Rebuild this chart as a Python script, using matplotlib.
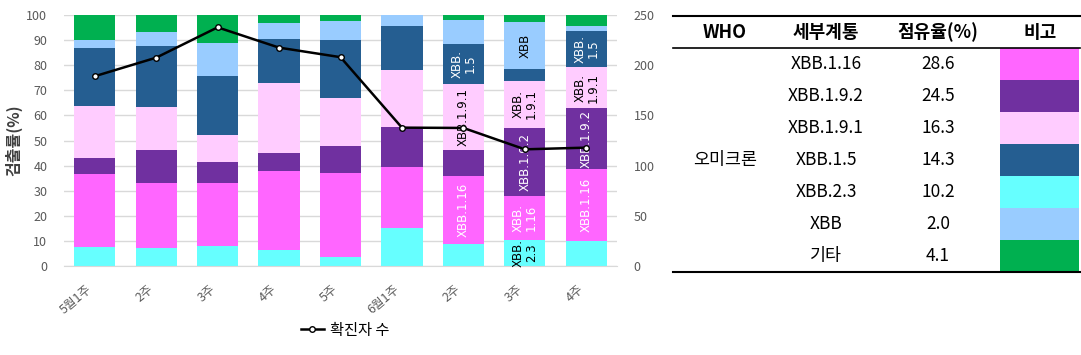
import matplotlib
matplotlib.use("Agg")
import matplotlib.pyplot as plt
from matplotlib.patches import Rectangle
from matplotlib.lines import Line2D
import numpy as np

plt.rcParams['font.family'] = ['Noto Sans CJK KR', 'DejaVu Sans']

weeks = ["5월1주", "2주", "3주", "4주", "5주", "6월1주", "2주", "3주", "4주"]
variants = ["XBB.2.3", "XBB.1.16", "XBB.1.9.2", "XBB.1.9.1", "XBB.1.5", "XBB", "기타"]
colors = ["#66FFFF", "#FF66FF", "#7030A0", "#FFCCFF", "#255E91", "#99CCFF", "#00B050"]

xbb_2_3  = [7.6, 7.2, 8.0, 6.4, 3.6, 15.1, 8.8, 10.4, 10.0]
xbb_1_16 = [29.1, 25.9, 25.1, 31.4, 33.5, 24.3, 27.1, 17.5, 28.6]
xbb_1_9_2 = [6.3, 13.1, 8.3, 7.2, 10.7, 16.0, 10.3, 27.1, 24.3]
xbb_1_9_1 = [20.7, 17.1, 10.8, 27.9, 19.1, 22.7, 26.3, 18.7, 16.4]
xbb_1_5  = [23.2, 24.3, 23.5, 17.5, 23.1, 17.5, 15.9, 4.8, 14.3]
xbb      = [3.1, 5.6, 13.1, 6.4, 7.6, 4.4, 9.6, 18.7, 2.0]
others   = [10.0, 6.8, 11.2, 3.2, 2.4, 0.0, 2.0, 2.8, 4.4]
series = [xbb_2_3, xbb_1_16, xbb_1_9_2, xbb_1_9_1, xbb_1_5, xbb, others]

cases = [189, 207.5, 237.7, 217.5, 208, 137.8, 137.5, 116.2, 117.9]

table_variants = ["XBB.1.16", "XBB.1.9.2", "XBB.1.9.1", "XBB.1.5", "XBB.2.3", "XBB", "기타"]
table_shares = ["28.6", "24.5", "16.3", "14.3", "10.2", "2.0", "4.1"]
table_colors = ["#FF66FF", "#7030A0", "#FFCCFF", "#255E91", "#66FFFF", "#99CCFF", "#00B050"]

# bar labels: (week index, series index, text, color)
bar_labels = [
    (6, 4, "XBB.\n1.5", "white"), (6, 3, "XBB.1.9.1", "black"), (6, 1, "XBB.1.16", "white"),
    (7, 5, "XBB", "black"), (7, 3, "XBB.\n1.9.1", "black"), (7, 2, "XBB.1.9.2", "white"),
    (7, 1, "XBB.\n1.16", "white"), (7, 0, "XBB.\n2.3", "black"),
    (8, 4, "XBB.\n1.5", "white"), (8, 3, "XBB.\n1.9.1", "black"), (8, 2, "XBB.1.9.2", "white"),
    (8, 1, "XBB.1.16", "white"),
]

W, H = 1081, 355
fig = plt.figure(figsize=(W / 100, H / 100), dpi=100)
ax = fig.add_axes([64 / W, (H - 266) / H, 553 / W, 251 / H])

x = np.arange(len(weeks))
bottom = np.zeros(len(weeks))
for s, c in zip(series, colors):
    ax.bar(x, s, bottom=bottom, width=0.67, color=c, zorder=2)
    bottom += np.array(s)

cum = np.cumsum(np.array(series), axis=0)
for wi, si, txt, col in bar_labels:
    lo = cum[si - 1][wi] if si > 0 else 0
    hi = cum[si][wi]
    ax.text(wi, (lo + hi) / 2, txt, rotation=90, ha='center', va='center',
            color=col, fontsize=8.5, linespacing=1.0, zorder=3, family=['DejaVu Sans'])

ax.set_xlim(-0.5, len(weeks) - 0.5)
ax.set_ylim(0, 100)
ax.set_yticks(range(0, 101, 10))
ax.yaxis.grid(True, color='#D9D9D9', linewidth=1, zorder=0)
ax.set_axisbelow(True)
for sp in ['left', 'right', 'top']:
    ax.spines[sp].set_visible(False)
ax.spines['bottom'].set_color('#D9D9D9')
ax.tick_params(axis='y', length=0, labelsize=9, labelcolor='#595959', pad=12)
ax.set_xticks(x)
ax.set_xticklabels(weeks, rotation=40, ha='right', fontsize=9, color='#595959')
ax.tick_params(axis='x', length=0, pad=12)
ax.set_ylabel("검출률(%)", fontsize=11.5, fontweight='bold', color='#404040', labelpad=3)

ax2 = ax.twinx()
ax2.set_ylim(0, 250)
ax2.set_yticks(range(0, 251, 50))
for sp in ax2.spines.values():
    sp.set_visible(False)
ax2.tick_params(axis='y', length=0, labelsize=9, labelcolor='#595959', pad=12)
ax2.plot(x, cases, color='black', linewidth=1.8, marker='o', markersize=4,
         markerfacecolor='white', markeredgecolor='black', markeredgewidth=1, zorder=5)

leg_handle = Line2D([], [], color='black', linewidth=1.8, marker='o', markersize=4,
                    markerfacecolor='white', markeredgecolor='black')
fig.legend([leg_handle], ["확진자 수"], loc='center', bbox_to_anchor=(345 / W, 1 - 330 / H),
           frameon=False, fontsize=11, handlelength=1.5, handletextpad=0.4)

# table
tx0, tx1 = 673, 1080
y_top, y_head, y_bot = 16, 48, 272
row_h = (y_bot - y_head) / len(table_variants)

def fy(py):
    return 1 - py / H

def fx(px):
    return px / W

for py, lw in [(y_top, 1.5), (y_head, 1.2), (y_bot, 1.5)]:
    fig.add_artist(Line2D([fx(tx0), fx(tx1)], [fy(py), fy(py)], color='black', linewidth=lw))

col_x = [725, 826, 938, 1040]
headers = ["WHO", "세부계통", "점유율(%)", "비고"]
for cx, h in zip(col_x, headers):
    fig.text(fx(cx), fy((y_top + y_head) / 2), h, ha='center', va='center',
             fontsize=13, fontweight='bold')

for i, (v, s, c) in enumerate(zip(table_variants, table_shares, table_colors)):
    cy = y_head + row_h * (i + 0.5)
    fig.text(fx(col_x[1]), fy(cy), v, ha='center', va='center', fontsize=12.5)
    fig.text(fx(col_x[2]), fy(cy), s, ha='center', va='center', fontsize=12.5)
    fig.add_artist(Rectangle((fx(1000), fy(y_head + row_h * (i + 1))), fx(79), row_h / H,
                             facecolor=c, edgecolor='none', transform=fig.transFigure))

fig.text(fx(col_x[0]), fy(160), "오미크론", ha='center', va='center', fontsize=12.5)

fig.savefig("out.png", dpi=100)
